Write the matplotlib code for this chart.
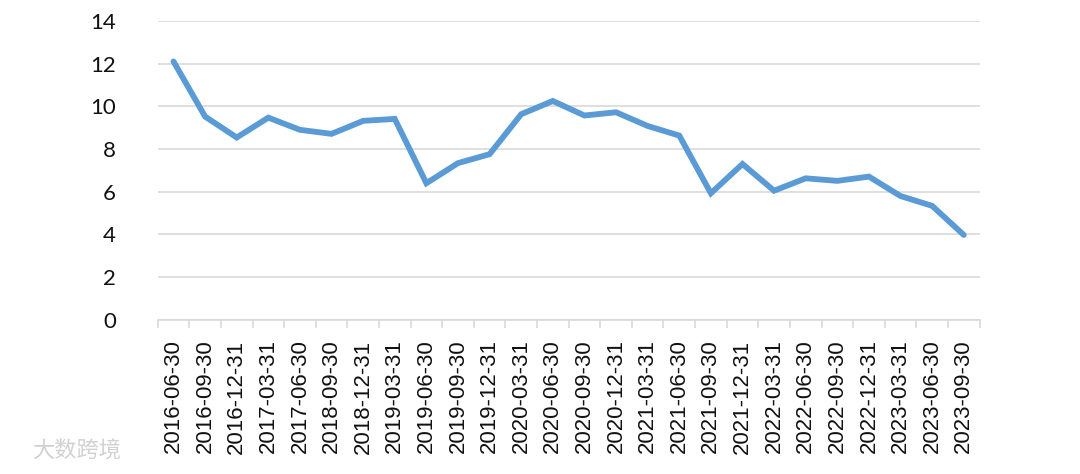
import matplotlib
matplotlib.use("Agg")
import matplotlib.pyplot as plt
from matplotlib.ticker import FixedLocator

# quarter-end dates as printed on the chart
dates = [
    "2016-06-30", "2016-09-30", "2016-12-31", "2017-03-31", "2017-06-30",
    "2018-09-30", "2018-12-31", "2019-03-31", "2019-06-30", "2019-09-30",
    "2019-12-31", "2020-03-31", "2020-06-30", "2020-09-30", "2020-12-31",
    "2021-03-31", "2021-06-30", "2021-09-30", "2021-12-31", "2022-03-31",
    "2022-06-30", "2022-09-30", "2022-12-31", "2023-03-31", "2023-06-30",
    "2023-09-30",
]
values = [
    12.1, 9.52, 8.54, 9.47, 8.9, 8.71, 9.32, 9.41, 6.4, 7.34,
    7.76, 9.63, 10.25, 9.57, 9.72, 9.08, 8.63, 5.93, 7.3, 6.05,
    6.63, 6.51, 6.71, 5.8, 5.34, 3.98,
]
y_ticks = [0, 2, 4, 6, 8, 10, 12, 14]

fig = plt.figure(figsize=(10.8, 4.74), dpi=100)
ax = fig.add_axes([0.146, 0.325, 0.761, 0.631])

x = list(range(len(dates)))
ax.plot(x, values, color="#5B9BD5", linewidth=4.2, solid_joinstyle="miter",
        solid_capstyle="round", zorder=3)

ax.set_xlim(-0.5, len(dates) - 0.5)
ax.set_ylim(0, 14)
ax.set_yticks(y_ticks)
ax.yaxis.grid(True, color="#D9D9D9", linewidth=1.2)
ax.set_axisbelow(True)

for side in ["left", "right", "top"]:
    ax.spines[side].set_visible(False)
ax.spines["bottom"].set_color("#D9D9D9")
ax.spines["bottom"].set_linewidth(1.2)

ax.set_xticks(x)
ax.set_xticklabels(dates, rotation=90, fontsize=16,
                   family=["Liberation Sans", "DejaVu Sans"], color="#111111")
ax.xaxis.set_minor_locator(FixedLocator([i - 0.5 for i in range(len(dates) + 1)]))
ax.tick_params(axis="x", which="major", length=0, pad=14)
ax.tick_params(axis="x", which="minor", length=6, width=1.2, color="#D9D9D9",
               direction="out")
ax.tick_params(axis="y", length=0, pad=30, labelsize=16, labelcolor="#111111")
for lbl in ax.get_yticklabels():
    lbl.set_family(["Lato", "DejaVu Sans"])

# watermark
fig.text(0.03, 0.035, "大数跨境", fontsize=16, color="#CCCCCC",
         family=["Noto Sans CJK SC", "DejaVu Sans"], alpha=0.9)

fig.savefig("out.png", dpi=100, facecolor="white")
